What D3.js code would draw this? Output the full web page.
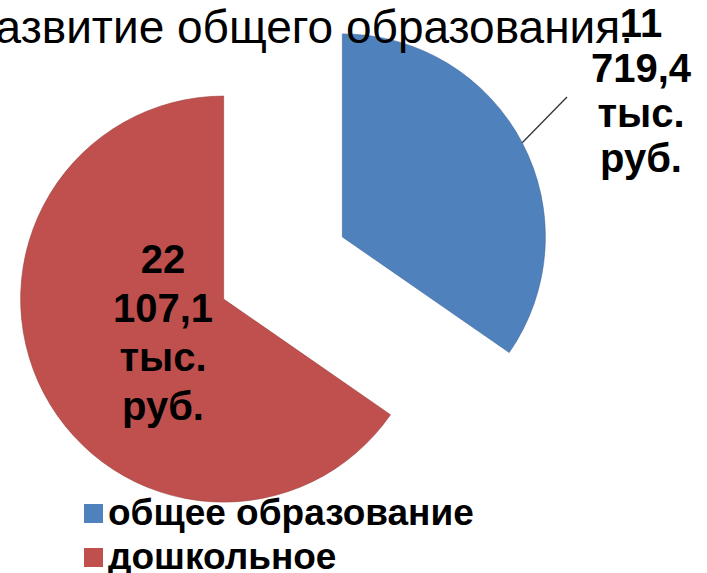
<!DOCTYPE html>
<html>
<head>
<meta charset="utf-8">
<script src="https://cdn.jsdelivr.net/npm/d3@7"></script>
<style>
  body { margin: 0; background: #fff; }
  svg { display: block; font-family: "Liberation Sans", Arial, sans-serif; }
</style>
</head>
<body>
<div id="chart"></div>
<script>
// data
const categories = ["общее образование", "дошкольное"];
const values = [11719.4, 22107.1];
const labelLines = [["11", "719,4", "тыс.", "руб."], ["22", "107,1", "тыс.", "руб."]];
const colors = ["#4F81BD", "#C0504D"];
const title = "Развитие общего образования.";

const W = 707, H = 573;
const cx = 283, cy = 268, r = 203, explode = 67;

const svg = d3.select("#chart").append("svg")
  .attr("width", W).attr("height", H);

// pie layout, clockwise from 12 o'clock, no sorting
const pie = d3.pie().sort(null).value(d => d)(values);
const arc = d3.arc().innerRadius(0).outerRadius(r);

const g = svg.append("g").attr("transform", `translate(${cx},${cy})`);

const offset = d => {
  const a = (d.startAngle + d.endAngle) / 2;
  return [Math.sin(a) * explode, -Math.cos(a) * explode];
};

const slices = g.selectAll(".slice")
  .data(pie)
  .enter().append("g")
  .attr("class", "slice")
  .attr("transform", d => `translate(${offset(d)})`);

slices.append("path")
  .attr("d", arc)
  .attr("fill", (d, i) => colors[i])
  .attr("stroke", (d, i) => d3.color(colors[i]).darker(0.6))
  .attr("stroke-width", 0.6);

// title (starts off the left edge, as in the picture)
svg.append("text")
  .attr("x", 633).attr("y", 43)
  .attr("text-anchor", "end")
  .style("font-size", "46px")
  .attr("fill", "#000")
  .text(title);

// leader line for the blue slice, from the middle of its arc
const blue = pie[0];
const mid = (blue.startAngle + blue.endAngle) / 2;
const [ox, oy] = offset(blue);
g.append("line")
  .attr("x1", ox + Math.sin(mid) * r).attr("y1", oy - Math.cos(mid) * r)
  .attr("x2", 567 - cx).attr("y2", 97 - cy)
  .attr("stroke", "#333").attr("stroke-width", 1.3);

// data labels
const labelPos = [{x: 641, y: 37, dy: 45}, {x: 163, y: 273, dy: 49}];
labelLines.forEach((lines, i) => {
  const lt = svg.append("text")
    .attr("text-anchor", "middle")
    .style("font-size", "40px")
    .style("font-weight", "bold")
    .attr("fill", "#000");
  lines.forEach((s, j) => {
    lt.append("tspan")
      .attr("x", labelPos[i].x)
      .attr("y", labelPos[i].y + j * labelPos[i].dy)
      .text(s);
  });
});

// legend
const legend = svg.append("g").attr("class", "legend");
const items = legend.selectAll("g")
  .data(categories)
  .enter().append("g")
  .attr("transform", (d, i) => `translate(0,${i * 44})`);
items.append("rect")
  .attr("x", 84).attr("y", 504)
  .attr("width", 19).attr("height", 19)
  .attr("fill", (d, i) => colors[i]);
items.append("text")
  .attr("x", 108).attr("y", 525)
  .style("font-size", "37px")
  .style("font-weight", "bold")
  .attr("fill", "#000")
  .text(d => d);
</script>
</body>
</html>
